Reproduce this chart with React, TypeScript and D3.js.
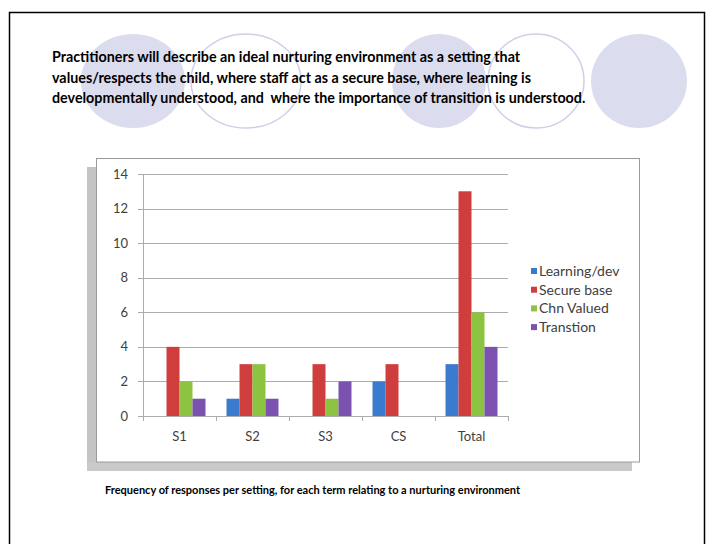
import React from "react";
import * as d3 from "d3";

const categories = ["S1", "S2", "S3", "CS", "Total"];
const seriesNames = ["Learning/dev", "Secure base", "Chn Valued", "Transtion"];
const learningDev = [0, 1, 0, 2, 3];
const secureBase = [4, 3, 3, 3, 13];
const chnValued = [2, 3, 1, 0, 6];
const transtion = [1, 1, 2, 0, 4];
const yTicks = [0, 2, 4, 6, 8, 10, 12, 14];
const seriesColors = ["#3b7bcf", "#d03d3d", "#8cc441", "#7b52b0"];
const titleLines = [
  "Practitioners will describe an ideal nurturing environment as a setting that",
  "values/respects the child, where staff act as a secure base, where learning is",
  "developmentally understood, and  where the importance of transition is understood.",
];
const caption =
  "Frequency of responses per setting, for each term relating to a nurturing environment";

const seriesValues = [learningDev, secureBase, chnValued, transtion];

const W = 711;
const H = 544;
const plot = { left: 143, right: 508, top: 174, bottom: 416 };
const FONT = "Lato, 'Open Sans', sans-serif";

const circles = [
  { cx: 133, rx: 52, filled: true },
  { cx: 246, rx: 55, filled: false },
  { cx: 439, rx: 47, filled: true },
  { cx: 536, rx: 48, filled: false },
  { cx: 639, rx: 48, filled: true },
];

export default function App() {
  const x0 = d3
    .scaleBand<string>()
    .domain(categories)
    .range([plot.left, plot.right])
    .paddingInner(0.288)
    .paddingOuter(0.144);
  const x1 = d3
    .scaleBand<string>()
    .domain(seriesNames)
    .range([0, x0.bandwidth()]);
  const y = d3.scaleLinear().domain([0, 14]).range([plot.bottom, plot.top]);
  const step = (plot.right - plot.left) / categories.length;
  const boundaries = d3.range(categories.length + 1).map((i) => plot.left + i * step);

  return (
    <div style={{ position: "absolute", left: 0, top: 0 }}>
      <svg width={W} height={H} style={{ display: "block" }}>
        <rect x={0} y={0} width={W} height={H} fill="#fff" />
        {/* slide border */}
        <path d={`M9.5,${H} V12.5 H704.5 V${H}`} fill="none" stroke="#000" strokeWidth={1.5} />
        {/* decorative circles */}
        {circles.map((c, i) => (
          <ellipse
            key={i}
            cx={c.cx}
            cy={81}
            rx={c.rx}
            ry={47}
            fill={c.filled ? "#dcdcef" : "none"}
            stroke={c.filled ? "none" : "#cfcfe8"}
            strokeWidth={1.5}
          />
        ))}
        {/* title */}
        <g fontFamily={FONT} fontWeight={700} fontSize={14.3} fill="#000">
          {titleLines.map((t, i) => (
            <text key={i} x={52} y={62 + i * 20.5} style={{ whiteSpace: "pre" }}>
              {t}
            </text>
          ))}
        </g>
        {/* chart shadow */}
        <rect x={87} y={167} width={9} height={304} fill="#c4c4c4" />
        <rect x={87} y={462} width={545} height={9} fill="#c9c9c9" />
        {/* chart box */}
        <rect x={96.5} y={158.5} width={543} height={303.5} fill="#fff" stroke="#9a9a9a" strokeWidth={1} />
        {/* gridlines & y ticks */}
        <g stroke="#ababab" strokeWidth={1}>
          {yTicks.map((t) => (
            <line key={t} x1={138} x2={plot.right} y1={Math.round(y(t)) + 0.5} y2={Math.round(y(t)) + 0.5} />
          ))}
          <line x1={plot.left + 0.5} x2={plot.left + 0.5} y1={plot.top} y2={plot.bottom} />
          {boundaries.map((b, i) => (
            <line key={i} x1={Math.round(b) + 0.5} x2={Math.round(b) + 0.5} y1={plot.bottom} y2={plot.bottom + 5} />
          ))}
        </g>
        <g fontFamily={FONT} fontSize={13} fill="#404040">
          {yTicks.map((t) => (
            <text key={t} x={128} y={y(t)} dy="0.35em" textAnchor="end">
              {t}
            </text>
          ))}
          {categories.map((c) => (
            <text key={c} x={(x0(c) as number) + x0.bandwidth() / 2} y={441} textAnchor="middle">
              {c}
            </text>
          ))}
        </g>
        {/* bars */}
        {categories.map((c, ci) => (
          <g key={c} transform={`translate(${x0(c)},0)`}>
            {seriesNames.map((s, si) => {
              const v = seriesValues[si][ci];
              if (!v) return null;
              return (
                <rect
                  key={s}
                  x={x1(s) as number}
                  y={y(v)}
                  width={x1.bandwidth()}
                  height={y(0) - y(v)}
                  fill={seriesColors[si]}
                />
              );
            })}
          </g>
        ))}
        {/* legend */}
        <g fontFamily={FONT} fontSize={14} fill="#404040">
          {seriesNames.map((s, i) => (
            <g key={s} transform={`translate(531,${271 + i * 18.7})`}>
              <rect x={0} y={-3} width={6} height={6} fill={seriesColors[i]} />
              <text x={8} y={0} dy="0.35em">
                {s}
              </text>
            </g>
          ))}
        </g>
        {/* caption */}
        <text x={105} y={494} fontFamily={FONT} fontWeight={700} fontSize={11} fill="#000">
          {caption}
        </text>
      </svg>
    </div>
  );
}
